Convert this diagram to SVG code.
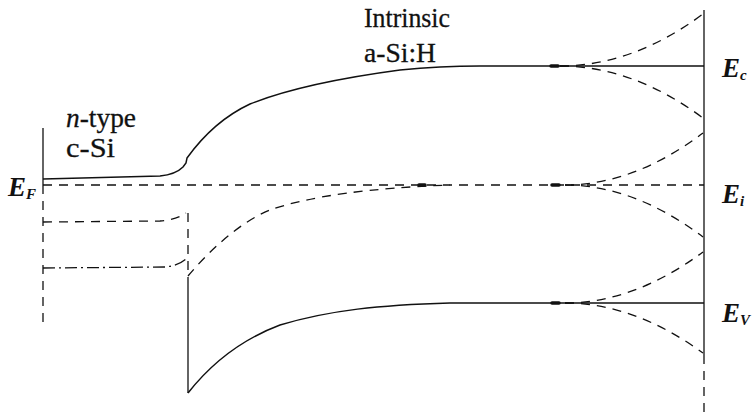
<svg xmlns="http://www.w3.org/2000/svg" width="754" height="415" viewBox="0 0 754 415">
<style>
.ln{fill:none;stroke:#111;stroke-width:1.3}
.sol{stroke-width:1.5}
.dsh{stroke-dasharray:9 7}
.dd{stroke-dasharray:12 4 2 4}
.t{font-family:"Liberation Serif","Times New Roman",serif;font-size:28px;fill:#111;stroke:#111;stroke-width:0.3}
.lab{font-family:"Liberation Serif","Times New Roman",serif;font-weight:bold;font-style:italic;font-size:27px;fill:#111}
.sub{font-size:15px}
.dot{stroke:#111;stroke-width:3.5;stroke-linecap:round}
</style>
<rect width="754" height="415" fill="#fff"/>
<g id="axes">
<line class="ln" x1="43" y1="128" x2="43" y2="185"/>
<line class="ln dsh" x1="43" y1="185" x2="43" y2="328"/>
<line class="ln" x1="704" y1="10" x2="704" y2="355"/>
<line class="ln dsh" x1="704" y1="355" x2="704" y2="412"/>
</g>
<g id="connectors">
<path id="Ec-band" class="ln sol" d="M43,179 L160,176 C170,175 178,172 183,167 L186,163 L187,158 C200,140 220,118 250,104 C290,88 340,78 400,70 C430,67 460,66 480,66 L704,66"/>
<path id="Ef-line" class="ln dsh" d="M43,185 L704,185"/>
<path id="cSi-Ei" class="ln dsh" d="M43,222 L160,221 C172,220 180,217 186,213"/>
<path id="cSi-Ev" class="ln dd" d="M43,268 L165,267 C175,266 182,263 187,258"/>
<line class="ln dsh" x1="188" y1="213" x2="188" y2="283"/>
<line class="ln" x1="188" y1="283" x2="188" y2="393"/>
<path id="aSi-Ei" class="ln dsh" d="M188,276 C210,250 240,222 270,210 C310,196 370,188 450,185"/>
<path id="Ev-band" class="ln sol" d="M188,393 C210,365 240,340 280,325 C330,310 380,305 450,303 L704,303"/>
<path class="ln dsh" d="M560,66 Q633,66 703,14"/>
<path class="ln dsh" d="M560,66 Q633,66 703,118"/>
<path class="ln dsh" d="M565,185 Q634,185 703,133"/>
<path class="ln dsh" d="M565,185 Q634,185 703,237"/>
<path class="ln dsh" d="M565,303 Q634,303 703,252"/>
<path class="ln dsh" d="M565,303 Q634,303 703,353"/>
<line class="dot" x1="551" y1="66" x2="558" y2="66"/>
<line class="dot" x1="552" y1="185" x2="559" y2="185"/>
<line class="dot" x1="552" y1="303" x2="559" y2="303"/>
<line class="dot" x1="419" y1="185" x2="425" y2="185"/>
</g>
<g id="label-intrinsic"><text class="t" x="364" y="27" textLength="86" lengthAdjust="spacingAndGlyphs">Intrinsic</text><text class="t" x="364" y="62" textLength="72" lengthAdjust="spacingAndGlyphs">a-Si:H</text></g>
<g id="label-ntype"><text class="t" x="66" y="127" textLength="70" lengthAdjust="spacingAndGlyphs"><tspan font-style="italic">n</tspan>-type</text><text class="t" x="66" y="157" textLength="49" lengthAdjust="spacingAndGlyphs">c-Si</text></g>
<g id="label-EF"><text class="lab" x="8" y="196">E<tspan class="sub" dy="3">F</tspan></text></g>
<g id="label-Ec"><text class="lab" x="722" y="77">E<tspan class="sub" dy="3">c</tspan></text></g>
<g id="label-Ei"><text class="lab" x="722" y="203">E<tspan class="sub" dy="3">i</tspan></text></g>
<g id="label-Ev"><text class="lab" x="722" y="322">E<tspan class="sub" dy="3">V</tspan></text></g>
</svg>
